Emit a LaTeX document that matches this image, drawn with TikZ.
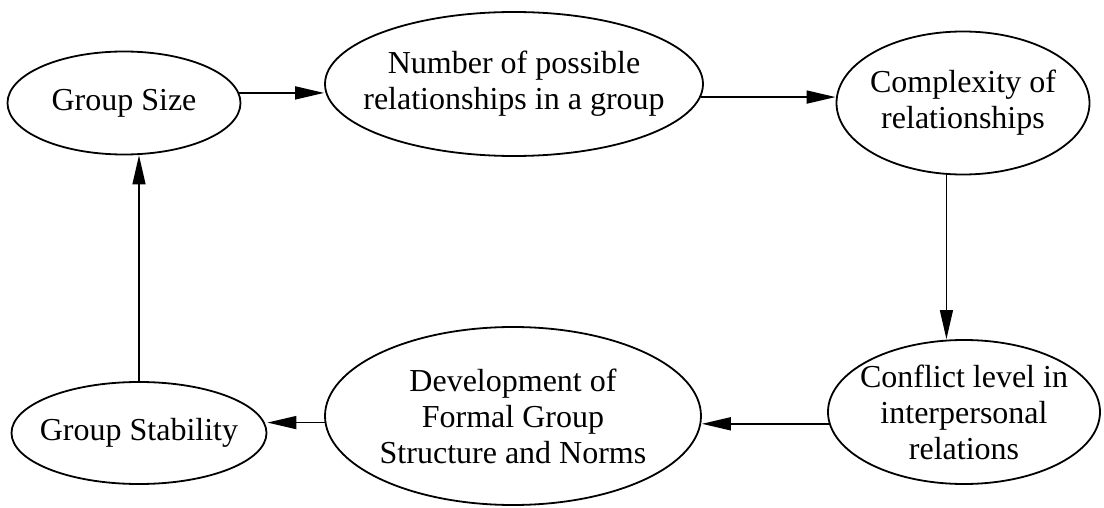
\documentclass[tikz,border=0pt]{standalone}
\usepackage{fontspec}
\setmainfont{Liberation Serif}
\usepackage{tikz}
\usetikzlibrary{shapes.geometric}
\usetikzlibrary{arrows.meta}
\tikzset{
	flow/.style = {
		line width = 1.7pt,
		-{Triangle[length = 29pt, width = 13pt]},
	},
}

\begin{document}
\begin{tikzpicture}[x = 1pt, y = -1pt]
                    \useasboundingbox (0, 0) rectangle (1104, 508);

                    \begin{scope}[
                        every node/.style = {
                            shape      = ellipse,
                            draw,
                            line width = 1.8pt,
                            inner xsep = -60pt,
                            inner ysep = -40pt,
                            align      = center,
                            font       = \fontsize{32}{36}\selectfont,
                        }
                    ]
                        \node (size)    at (124, 103) [minimum width = 233pt, minimum height = 103pt] {Group Size};
                        \node (number)  at (514,  84) [minimum width = 378pt, minimum height = 144pt] {Number of possible\\relationships in a group};
                        \node (complex) at (963, 103) [minimum width = 253pt, minimum height = 143pt] {Complexity of\\relationships};
                        \node (conflict) at (964, 412) [minimum width = 272pt, minimum height = 144pt] {Conflict level in\\interpersonal\\relations};
                        \node (formal)  at (513, 416) [minimum width = 376pt, minimum height = 178pt] {Development of\\Formal Group\\Structure and Norms};
                        \node (stable)  at (139, 433) [minimum width = 255pt, minimum height = 102pt] {Group Stability};
                    \end{scope}

                    \draw[flow] (size.5)       -- (size.5 -| number.west);
                    \draw[flow] (number.-4)    -- (number.-4 -| complex.west);
                    \draw[flow, line width = 1.3pt] (complex.257) -- (complex.257 |- conflict.north);
                    \draw[flow] (conflict.185) -- (conflict.185 -| formal.east);
                    \draw[flow] (formal.182)   -- (formal.182 -| stable.east);
                    \draw[flow, line width = 1.3pt] (stable.north) -- (stable.north |- size.south);
                \end{tikzpicture}
\end{document}
